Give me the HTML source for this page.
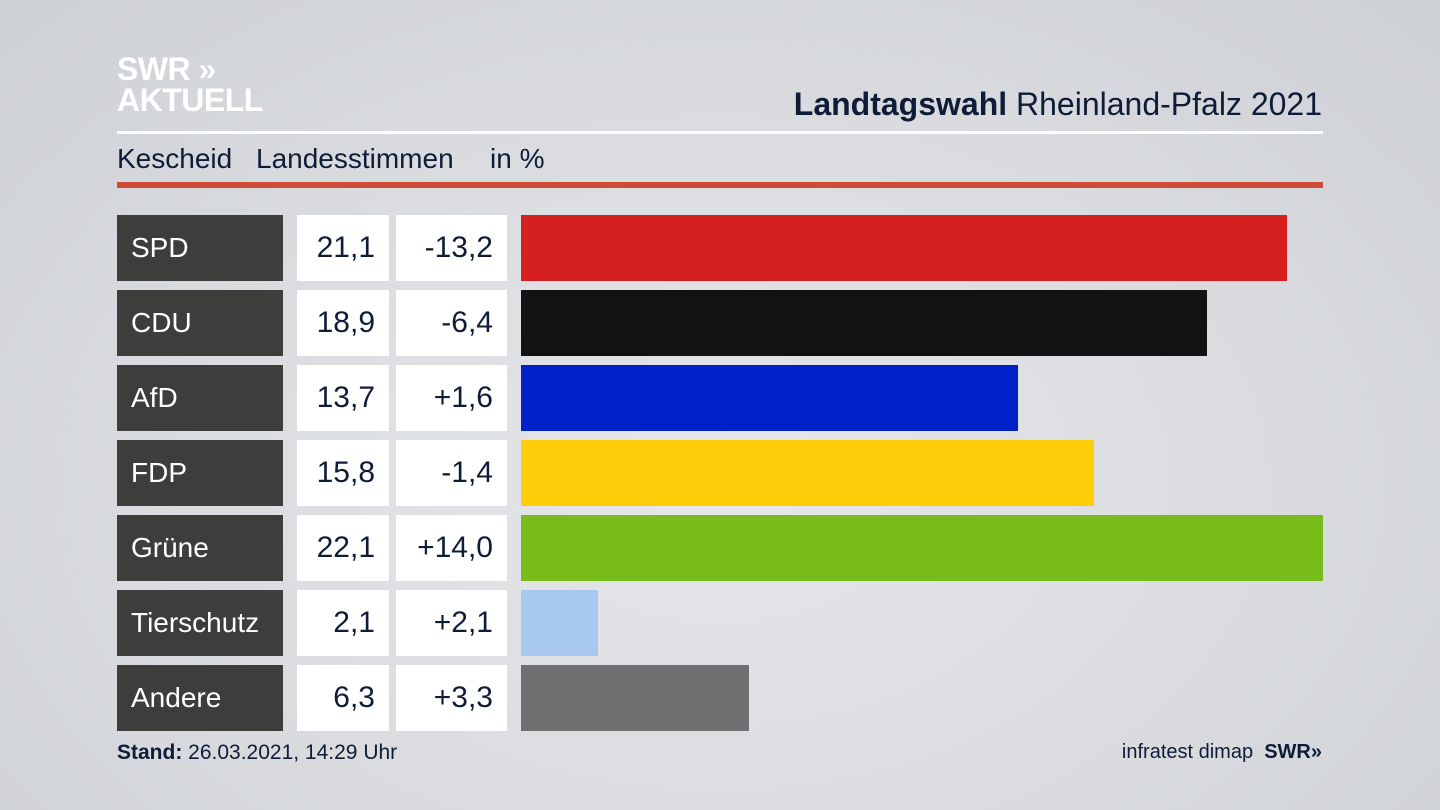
<!DOCTYPE html>
<html><head><meta charset="utf-8"><style>
body{margin:0;width:1440px;height:810px;overflow:hidden;background:radial-gradient(ellipse at 50% 60%,#e6e7ea 0%,#d9dbdf 55%,#cdd0d5 100%);font-family:"Liberation Sans",sans-serif;color:#0f1c38;position:relative}
.a{position:absolute}
.logo{color:#fff;font-weight:bold;font-size:32px;line-height:31px;left:117px;top:54px;letter-spacing:-0.5px}
.name{background:#3d3d3b;color:#fff;font-size:28px;left:117px;width:166px;height:66px;line-height:66px;box-sizing:border-box;padding-left:14px}
.v{background:#fff;font-size:30px;height:66px;line-height:66px;text-align:right;box-sizing:border-box;padding-right:14px}
.bar{left:521px;height:66px}
</style></head><body>
<div class="a logo">SWR »<br>AKTUELL</div>
<div class="a" style="right:118px;top:86px;font-size:32px"><b>Landtagswahl</b> Rheinland-Pfalz 2021</div>
<div class="a" style="left:117px;top:131px;width:1206px;height:3px;background:#fff"></div>
<div class="a" style="left:117px;top:143px;font-size:28px">Kescheid</div>
<div class="a" style="left:256px;top:143px;font-size:28px">Landesstimmen</div>
<div class="a" style="left:490px;top:143px;font-size:28px">in %</div>
<div class="a" style="left:117px;top:182px;width:1206px;height:6px;background:#cf4b37"></div>

<div class="a name" style="top:215px">SPD</div><div class="a v" style="top:215px;left:297px;width:92px">21,1</div><div class="a v" style="top:215px;left:396px;width:111px">-13,2</div><div class="a bar" style="top:215px;width:766px;background:#d61f1f"></div>
<div class="a name" style="top:290px">CDU</div><div class="a v" style="top:290px;left:297px;width:92px">18,9</div><div class="a v" style="top:290px;left:396px;width:111px">-6,4</div><div class="a bar" style="top:290px;width:686px;background:#121212"></div>
<div class="a name" style="top:365px">AfD</div><div class="a v" style="top:365px;left:297px;width:92px">13,7</div><div class="a v" style="top:365px;left:396px;width:111px">+1,6</div><div class="a bar" style="top:365px;width:497px;background:#0021c8"></div>
<div class="a name" style="top:440px">FDP</div><div class="a v" style="top:440px;left:297px;width:92px">15,8</div><div class="a v" style="top:440px;left:396px;width:111px">-1,4</div><div class="a bar" style="top:440px;width:573px;background:#ffcc0a"></div>
<div class="a name" style="top:515px">Grüne</div><div class="a v" style="top:515px;left:297px;width:92px">22,1</div><div class="a v" style="top:515px;left:396px;width:111px">+14,0</div><div class="a bar" style="top:515px;width:802px;background:#78bc1c"></div>
<div class="a name" style="top:590px">Tierschutz</div><div class="a v" style="top:590px;left:297px;width:92px">2,1</div><div class="a v" style="top:590px;left:396px;width:111px">+2,1</div><div class="a bar" style="top:590px;width:77px;background:#a9c8f0"></div>
<div class="a name" style="top:665px">Andere</div><div class="a v" style="top:665px;left:297px;width:92px">6,3</div><div class="a v" style="top:665px;left:396px;width:111px">+3,3</div><div class="a bar" style="top:665px;width:228px;background:#6f7072"></div>

<div class="a" style="left:117px;top:741px;font-size:21px"><b>Stand:</b> 26.03.2021, 14:29 Uhr</div>
<div class="a" style="right:118px;top:741px;font-size:20px">infratest dimap&nbsp; <b>SWR»</b></div>
</body></html>
